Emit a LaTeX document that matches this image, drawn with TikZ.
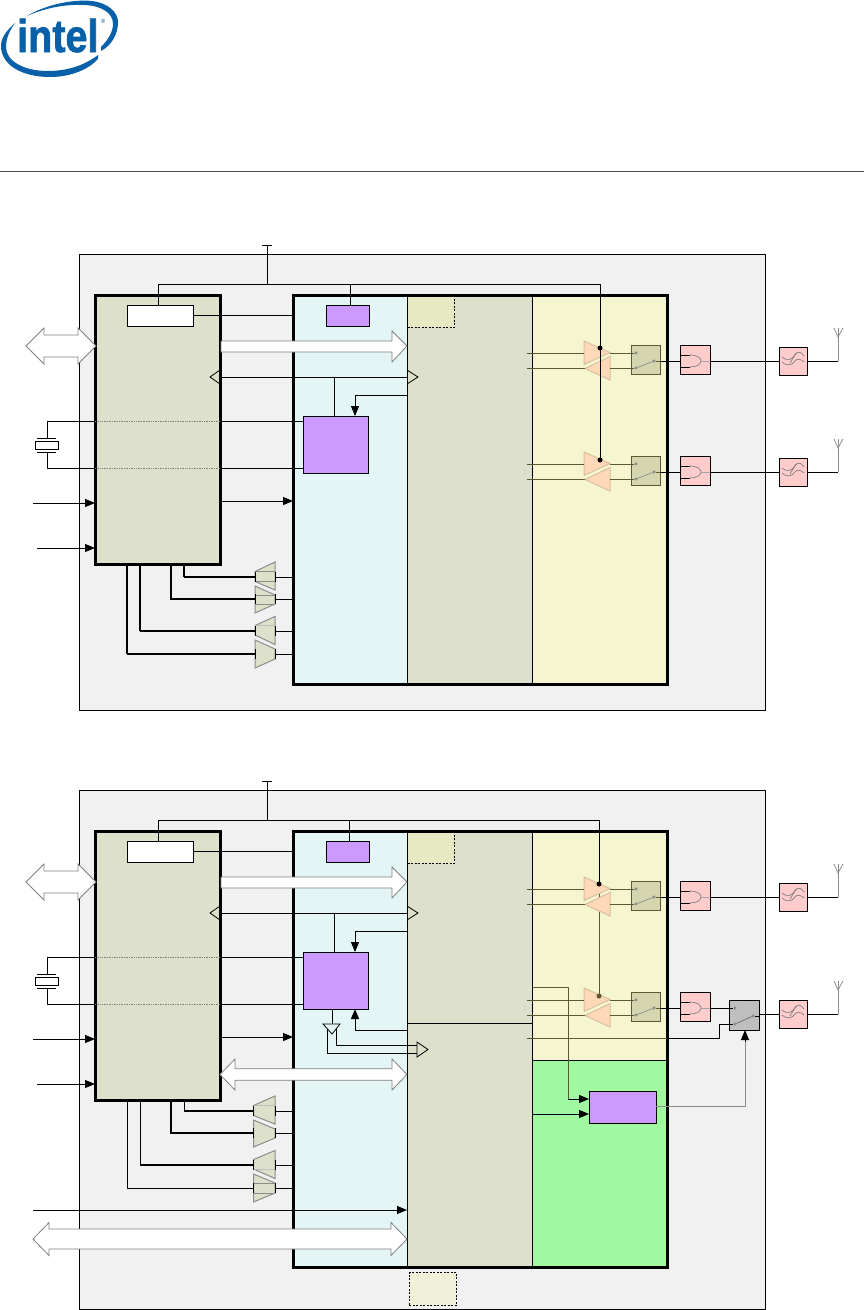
\documentclass[tikz,border=0pt]{standalone}
\usepackage{fontspec}
\setmainfont{Liberation Sans}
\newfontfamily\logofont[BoldFeatures={FakeBold=1.6}]{Liberation Sans}
\usetikzlibrary{arrows.meta}
\definecolor{cPanel}{HTML}{F1F1F1}
\definecolor{cTeal}{HTML}{E3F5F5}
\definecolor{cMid}{HTML}{DDE1CB}
\definecolor{cYel}{HTML}{F5F5D0}
\definecolor{cGreen}{HTML}{A0F8A0}
\definecolor{cPur}{HTML}{CC99FF}
\definecolor{cPink}{HTML}{FFCCCC}
\definecolor{cOr}{HTML}{FFD8B8}
\definecolor{cOrE}{HTML}{D8C0A0}
\definecolor{cSw}{HTML}{D5D5AF}
\definecolor{cOl}{HTML}{5A5A30}
\definecolor{cDash}{HTML}{E6E9C2}
\definecolor{cDashB}{HTML}{F0F1D8}
\definecolor{cBlue}{HTML}{0860A8}
\tikzset{
  x=1pt,y=-1pt,
  blk/.style={draw=black,line width=1pt,inner sep=0pt,outer sep=0pt,anchor=north west},
  heavy/.style={blk,line width=3pt},
  wire/.style={draw=black,line width=1pt},
  owire/.style={draw=cOl,line width=1pt},
  fine/.style={draw=black!45,line width=.7pt},
  pale/.style={draw=black!25,line width=.7pt},
  tip/.style={-{Triangle[length=10pt,width=8pt]},line width=1pt},
  hollow/.style={draw=black,line width=.8pt},
  block arrow/.style={fill=white,draw=black!50,line width=.8pt},
  tri/.style={fill=cOr,draw=cOrE,line width=1pt},
  muxs/.style={fill=cMid,draw=black!45,line width=1pt},
  contact/.style={circle,draw=black!60,fill=white,line width=.5pt,inner sep=0pt,minimum size=2.6pt},
  dotn/.style={circle,fill=black,inner sep=0pt,minimum size=5pt},
}
% name, style, x1, y1, x2, y2
\newcommand\bx[6]{\node[#2,minimum width={(#5-#3)*1pt},minimum height={(#6-#4)*1pt}] (#1) at (#3,#4) {};}
% double block arrow: x1 x2 centre head-length head-half shaft-half
\newcommand\dblarrow[6]{\path[block arrow] (#1,#3) -- (#1+#4,#3-#5) -- (#1+#4,#3-#6) -- (#2-#4,#3-#6) -- (#2-#4,#3-#5) -- (#2,#3) -- (#2-#4,#3+#5) -- (#2-#4,#3+#6) -- (#1+#4,#3+#6) -- (#1+#4,#3+#5) -- cycle;}
% transmit chain: prefix, dy
\newcommand\chain[2]{\begin{scope}[yshift=-#2pt]
  \path[tri] (584,341) -- (610,352.5) -- (584,364.5) -- cycle;
  \path[tri] (610,356.5) -- (585,368.5) -- (610,380) -- cycle;
  \bx{#1sw}{blk,fill=cSw,draw=cOl}{631}{345}{660}{374}
  \bx{#1gate}{blk,fill=cPink}{680}{345}{710}{374}
  \node[contact] (#1ca) at (636,353) {};
  \node[contact] (#1cb) at (636,368) {};
  \node[contact] (#1cc) at (654,361) {};
  \draw[fine] (#1cb) -- (#1cc);
  \coordinate (#1ia) at (527,353); \coordinate (#1ib) at (527,368);
  \draw[owire] (#1ia) -- (584,353);
  \draw[owire] (#1ib) -- (585,368);
  \draw[owire] (610,353) -- (#1ca);
  \draw[owire] (610,368) -- (#1cb);
  \draw[wire] (#1gate.west |- 0,355) -- (690,355);
  \draw[wire] (#1gate.west |- 0,367) -- (690,367);
  \draw[draw=black!50,line width=.7pt] (690,355) .. controls (697,355) and (701,358) .. (701,361) .. controls (701,364) and (697,367) .. (690,367);
  \draw[draw=black!35,line width=1pt] (701,361) -- (#1gate.east |- 0,361);
  \draw[owire] (#1cc) -- (660,361);
  \draw[wire] (660,361) -- (#1gate.west |- 0,361);
  \end{scope}}
% filter + antenna: prefix, dy
\newcommand\fant[2]{\begin{scope}[yshift=-#2pt]
  \bx{#1flt}{blk,fill=cPink}{779}{347}{807}{375}
  \draw[draw=black!55,line width=.6pt] (782,357) .. controls (788,362) and (792,359) .. (795,355) .. controls (797,351) and (801,351) .. (804,356);
  \draw[draw=black!55,line width=.6pt] (782,362) .. controls (788,367) and (792,365) .. (795,361) .. controls (797,358) and (801,359) .. (804,362);
  \draw[draw=black!55,line width=.6pt] (790,363) -- (796,353);
  \coordinate (#1ant) at (838,337);
  \draw[wire] (#1flt.east |- 0,361) -- (838,361);
  \draw[draw=black!45,line width=1pt] (838,361) -- (#1ant);
  \draw[draw=black!50,line width=.7pt] (834,328) -- (#1ant) -- (843,328);
  \draw[draw=black!45,line width=.7pt] (#1ant) -- (838,328);
  \end{scope}}
% mux group: prefix, dy, left x, inner detail lines, wire widths via args
\newcommand\muxes[7]{\begin{scope}[yshift=-#2pt]
  \def\mx{#3}
  \path[muxs] (\mx,571.5) -- (275,562) -- (275,590) -- (\mx,581.5) -- cycle;
  \path[muxs] (\mx,586) -- (275,595) -- (275,604) -- (\mx,613) -- cycle;
  \path[muxs] (\mx,625.5) -- (275,616.5) -- (275,644.5) -- (\mx,635) -- cycle;
  \path[muxs] (\mx,640) -- (275,649) -- (275,659) -- (\mx,668) -- cycle;
  #4
  \draw[wire,line width=#5pt] (#1cpu.south -| 184,0) -- (184,577);
  \draw[wire,line width=#6pt] (184,577) -- (\mx,577);
  \draw[wire,line width=1.1pt] (#1cpu.south -| 171,0) -- (171,599) -- (\mx,599);
  \draw[wire,line width=#5pt] (#1cpu.south -| 140,0) -- (140,631);
  \draw[wire,line width=#6pt] (140,631) -- (\mx,631);
  \draw[wire,line width=#5pt] (#1cpu.south -| 127,0) -- (127,654);
  \draw[wire,line width=#7pt] (127,654) -- (\mx,654);
  \foreach \wy in {577,599,631,654} {
    \draw[wire] (\mx,\wy-5) -- (\mx,\wy+5);
    \draw[wire] (275,\wy-5) -- (275,\wy+5);
    \draw[wire] (275,\wy) -- (#1main.west |- 0,\wy);
  }
  \end{scope}}
% common part: prefix, panel bottom, main bottom, yellow bottom, dy, wire right end, reg x, green part
\newcommand\diagram[8]{\begin{scope}[yshift=-#5pt]
  \bx{#1panel}{blk,fill=cPanel}{79}{254}{765}{#2}
  \fill[cTeal] (293,295) rectangle (407,#3);
  \fill[cMid] (407,295) rectangle (532.5,#3);
  \fill[cYel] (532.5,295) rectangle (667,#4);
  #8
  \bx{#1main}{heavy}{293}{295}{667}{#3}
  \draw[wire] (407,295) -- (407,#3);
  \draw[wire] (532.5,295) -- (532.5,#3);
  \bx{#1dash}{blk,fill=cDash,dashed,line width=.8pt,dash pattern=on 2pt off 1.5pt}{407.5}{295.5}{454}{327.5}
  \bx{#1cpu}{heavy,fill=cMid}{95}{295}{220}{564}
  \draw[line width=3pt] (293,295) -- (667,295);
  \bx{#1ctl}{blk,fill=white}{127}{305}{193}{326}
  \bx{#1reg}{blk,fill=cPur}{326}{305}{369}{326}
  \bx{#1pll}{blk,fill=cPur}{303}{416}{368}{473}
  % supply
  \coordinate (#1vcc) at (267,245);
  \draw[wire] (262,245) -- (272,245);
  \draw[wire] (#1vcc) -- (267,284);
  \draw[wire] (#1ctl.north -| 158,0) -- (158,284) -- (#6,284);
  \draw[wire] (#1reg.north -| #7,0) -- (#7,284);
  \draw[wire] (#1ctl.east |- 0,315) -- (#1main.west |- 0,315);
  % bus arrows
  \dblarrow{26}{96}{346}{18}{18}{11}
  \path[block arrow] (221,341) -- (392,341) -- (392,331) -- (407,346) -- (392,362) -- (392,352) -- (221,352) -- cycle;
  % hollow bus
  \draw[wire] (#1cpu.east |- 0,377) -- (407,377);
  \draw[hollow] (220,370) -- (210,377) -- (220,384);
  \draw[hollow] (407,370) -- (418,377) -- (407,384);
  \draw[wire] (334,377) -- (#1pll.north -| 334,0);
  \draw[tip] (407,395) -- (355,395) -- (#1pll.north -| 355,0);
  % crystal
  \bx{#1xtal}{blk,fill=white}{35}{441}{58.5}{449}
  \draw[wire] (37,438) -- (56,438); \draw[wire] (37,452) -- (56,452);
  \draw[wire] (47,438) -- (47,421) -- (#1cpu.west |- 0,421);
  \draw[wire] (47,452) -- (47,468) -- (#1cpu.west |- 0,468);
  \draw[draw=black!50,densely dotted,line width=.7pt] (#1cpu.west |- 0,421) -- (#1cpu.east |- 0,421);
  \draw[draw=black!50,densely dotted,line width=.7pt] (#1cpu.west |- 0,468) -- (#1cpu.east |- 0,468);
  \draw[wire] (#1cpu.east |- 0,421) -- (#1pll.west |- 0,421);
  \draw[wire] (#1cpu.east |- 0,468) -- (#1pll.west |- 0,468);
  % inputs
  \coordinate (#1ina) at (33,503); \coordinate (#1inb) at (37,548);
  \draw[tip] (#1ina) -- (#1cpu.west |- 0,503);
  \draw[tip] (#1inb) -- (#1cpu.west |- 0,548);
  \draw[tip] (#1cpu.east |- 0,501) -- (#1main.west |- 0,501);
  \end{scope}}
\begin{document}
\begin{tikzpicture}
\useasboundingbox (0,0) rectangle (864,1310);
\fill[white] (0,0) rectangle (864,1310);
% logo
\fill[cBlue] (27,16) .. controls (45,5) and (72,-1) .. (92,1) .. controls (108,3) and (118,12) .. (118,22) .. controls (118,34) and (112,45) .. (101,51) -- (101,47) .. controls (108,40) and (113,32) .. (113,24) .. controls (113,13) and (102,6) .. (85,5) .. controls (65,4) and (45,8) .. (27,16) -- cycle;
\fill[cBlue] (15,23) .. controls (6,31) and (1,38) .. (1,46) .. controls (1,65) and (22,77) .. (50,77) .. controls (70,77) and (88,70) .. (98,59) -- (98,55) .. controls (85,65) and (68,71) .. (48,71) .. controls (22,71) and (6,60) .. (6,47) .. controls (6,38) and (10,30) .. (15,23) -- cycle;
\node[text=cBlue,inner sep=0pt,anchor=base west,xscale=.86,font=\logofont\bfseries\fontsize{46}{46}\selectfont] (logotext) at (17,52) {intel};
\node[text=cBlue,inner sep=0pt,font=\fontsize{6}{6}\selectfont] (logomark) at (103,21) {®};
\draw[draw=black!70,line width=1pt] (0,171) -- (864,171);
%
\diagram{a}{710}{684}{684}{0}{600}{350}{}
\muxes{a}{0}{255}{%
  \draw[fine] (\mx,571.5) -- (275,571.5); \draw[fine] (\mx,581.5) -- (275,581.5);
  \draw[fine] (\mx,595) -- (275,595); \draw[fine] (\mx,604) -- (275,604);
  \draw[pale] (\mx,625.5) -- (275,625.5);
}{1.4}{1.1}{1.8}
\chain{ax}{0}
\chain{ay}{111}
\fant{ap}{0}
\fant{aq}{111}
\draw[wire] (axgate.east |- apflt.west) -- (apflt.west);
\draw[wire] (aygate.east |- aqflt.west) -- (aqflt.west);
\draw[wire] (600,284) -- (600,460);
\node[dotn] (adot1) at (600,348) {};
\node[dotn] (adot2) at (600,460) {};
%
\diagram{b}{773}{731}{524}{536}{599}{349}{\fill[cGreen] (532.5,524) rectangle (667,731);\draw[wire] (532.5,524) -- (667,524);}
\muxes{b}{534}{253.5}{%
  \draw[pale] (\mx,571.5) -- (275,571.5);
  \draw[pale] (\mx,635) -- (275,635);
  \draw[fine] (\mx,649) -- (275,649); \draw[fine] (\mx,659) -- (275,659);
}{1}{1.8}{1}
\draw[draw=cOl,line width=1pt] (599,890) -- (599,996);
\chain{bx}{536}
\chain{by}{647}
\fant{bp}{536}
\fant{bq}{653}
\draw[wire] (bxgate.east |- bpflt.west) -- (bpflt.west);
\draw[wire] (599,820) -- (599,884);
\node[dotn] (bdot1) at (599,884) {};
\draw[draw=cOl,line width=1pt] (599,975) -- (599,996);
\node[dotn,fill=cOl] (bdot2) at (599,996) {};
% RF switch
\bx{bant}{blk,fill=black!25}{729}{1000}{759}{1030}
\node[contact] (bca) at (735,1008) {};
\node[contact] (bcb) at (735,1024) {};
\node[contact] (bcc) at (753,1016) {};
\draw[draw=black!60,line width=.7pt] (bcb) -- (bcc);
\draw[wire] (bygate.east |- bca) -- (bca);
\draw[wire] (bcc) -- (bant.east |- bcc);
\draw[wire] (bant.east |- bqflt.west) -- (bqflt.west);
\draw[owire] (527,1038) -- (667,1038);
\draw[wire] (667,1038) -- (719,1038) -- (719,1024) -- (bcb);
% coexistence block
\bx{bbt}{blk,fill=cPur}{589}{1091}{656}{1123}
\draw[owire] (532.5,987) -- (568,987) -- (568,1099);
\draw[tip] (568,1099) -- (bbt.west |- 0,1099);
\draw[tip] (532.5,1114) -- (bbt.west |- 0,1114);
\draw[draw=black!45,line width=1pt] (bbt.east |- 0,1106) -- (745,1106) -- (745,1040);
\draw[tip] (745,1042) -- (bant.south -| 745,0);
\draw[wire] (407,1023) -- (532.5,1023);
% buffer
\draw[wire] (bpll.south -| 332,0) -- (332,1024);
\draw[hollow,fill=cTeal] (323,1024) -- (340,1024) -- (332,1034) -- cycle;
\draw[hollow] (417,1042) -- (428,1049.5) -- (417,1057) -- cycle;
\draw[wire] (336,1029) -- (336,1045) -- (417,1045);
\draw[wire] (327,1029) -- (327,1053) -- (417,1053);
\draw[tip] (407,1030) -- (355,1030) -- (bpll.south -| 355,0);
% extra buses
\dblarrow{220}{407}{1074.5}{15}{15.5}{5.7}
\draw[tip] (33,1210) -- (407,1210);
\dblarrow{33}{407}{1239}{16}{16.5}{10}
\bx{bdash}{blk,fill=cDashB,dashed,line width=.8pt,dash pattern=on 2pt off 1.5pt}{409}{1272.5}{456.5}{1305}
\end{tikzpicture}
\end{document}
